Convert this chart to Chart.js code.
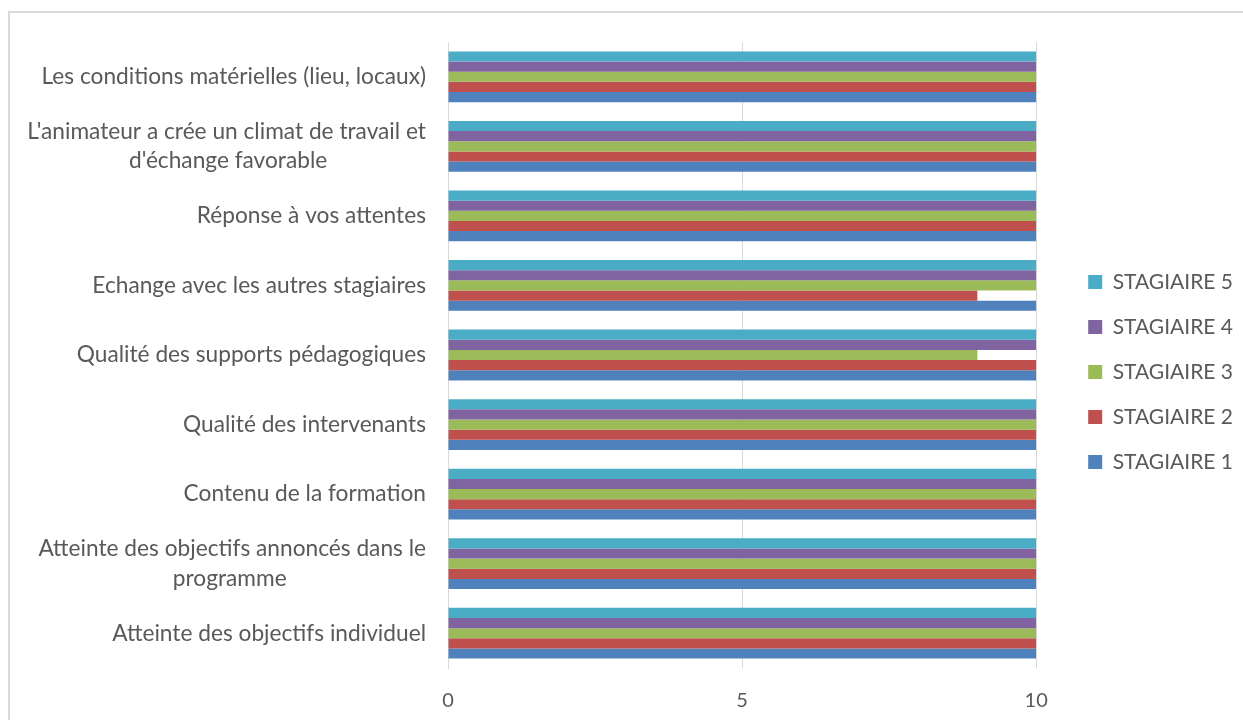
<!DOCTYPE html>
<html>
<head>
<meta charset="utf-8">
<title>Evaluation stagiaires</title>
<script src="https://cdn.jsdelivr.net/npm/chart.js@4.4.1/dist/chart.umd.min.js"></script>
<style>
    html, body { margin: 0; padding: 0; background: #fff; overflow: hidden; }
    #frame { position: absolute; left: 8px; top: 11px; width: 1400px; height: 900px; border: 2px solid #d9d9d9; }
    #wrap { position: absolute; left: 0; top: 0; width: 1243px; height: 720px; }
</style>
</head>
<body>
<div id="frame"></div>
<div id="wrap"><canvas id="chart"></canvas></div>
<script>
// categories, bottom to top as in the sheet
var categories = [
    'Atteinte des objectifs individuel',
    ['Atteinte des objectifs annoncés dans le', 'programme'],
    'Contenu de la formation',
    'Qualité des intervenants',
    'Qualité des supports pédagogiques',
    'Echange avec les autres stagiaires',
    'Réponse à vos attentes',
    ["L'animateur a crée un climat de travail et", "d'échange favorable"],
    'Les conditions matérielles (lieu, locaux)'
];
var seriesNames = ['STAGIAIRE 1', 'STAGIAIRE 2', 'STAGIAIRE 3', 'STAGIAIRE 4', 'STAGIAIRE 5'];
var stagiaire1 = [10, 10, 10, 10, 10, 10, 10, 10, 10];
var stagiaire2 = [10, 10, 10, 10, 10, 9, 10, 10, 10];
var stagiaire3 = [10, 10, 10, 10, 9, 10, 10, 10, 10];
var stagiaire4 = [10, 10, 10, 10, 10, 10, 10, 10, 10];
var stagiaire5 = [10, 10, 10, 10, 10, 10, 10, 10, 10];
var xTicks = [0, 5, 10];

var colors = ['#4f81bd', '#c0504d', '#9bbb59', '#8064a2', '#4bacc6']
    , txtColor = '#595959'
    , gridColor = '#d9d9d9'
    , fontFamily = 'Lato, "Open Sans", sans-serif'
    , labelSize = 22.7
;

// center the lines of a multi-line label (Excel style) with non-breaking spaces
var mctx = document.createElement('canvas').getContext('2d');
mctx.font = labelSize + 'px ' + fontFamily;
function centerLines(lines) {
    if (!Array.isArray(lines)) { return lines; }
    var widths = lines.map(function (l) { return mctx.measureText(l).width; })
        , maxW = Math.max.apply(null, widths)
        , sp = mctx.measureText('\u00a0').width;
    return lines.map(function (l, i) {
        var n = Math.round((maxW - widths[i]) / 2 / sp);
        return l + new Array(n + 1).join('\u00a0');
    });
}

// stagiaire 5 first: it sits on top of each group and heads the legend
var allData = [stagiaire1, stagiaire2, stagiaire3, stagiaire4, stagiaire5];
var datasets = allData.map(function (d, i) {
    return {
        label: seriesNames[i],
        data: d,
        backgroundColor: colors[i],
        borderWidth: 0,
        categoryPercentage: 0.73,
        barPercentage: 1
    };
}).reverse();

Chart.defaults.font.family = fontFamily;
Chart.defaults.color = txtColor;

// empty spacer axes (no data on them), only used to push the plot area
var spacer = function (pos, size) {
    return {
        position: pos,
        display: true,
        grid: { display: false, drawTicks: false },
        border: { display: false },
        ticks: { display: false },
        afterFit: function (s) { if (pos == 'top') { s.height = size; } else { s.width = size; } }
    };
};

var ctx = document.getElementById('chart').getContext('2d');
window.myBar = new Chart(ctx, {
    type: 'bar',
    data: { labels: categories, datasets: datasets },
    options: {
        indexAxis: 'y',
        responsive: true,
        maintainAspectRatio: false,
        animation: false,
        layout: { padding: { top: 24, right: 0, bottom: 0, left: 0 } },
        plugins: {
            legend: {
                position: 'right',
                labels: { boxWidth: 14, boxHeight: 14, padding: 24, color: txtColor, font: { size: 21 } }
            },
            tooltip: { enabled: false }
        },
        scales: {
            x: {
                min: 0, max: 10,
                afterBuildTicks: function (s) { s.ticks = xTicks.map(function (v) { return { value: v }; }); },
                grid: { color: gridColor, drawTicks: false },
                border: { display: false },
                ticks: { padding: 21, color: txtColor, font: { size: 20 } },
                afterFit: function (s) { s.height = 52; }
            },
            y: {
                reverse: true,
                grid: { display: false, drawTicks: false },
                border: { display: true, color: gridColor },
                ticks: {
                    padding: 22,
                    color: txtColor,
                    font: { size: labelSize, lineHeight: 1.3 },
                    callback: function (value) { return centerLines(this.getLabelForValue(value)); }
                },
                afterFit: function (s) { s.width = 448; }
            },
            gapTop: spacer('top', 18),
            gapRight: spacer('right', 28)
        }
    }
});
</script>
</body>
</html>
